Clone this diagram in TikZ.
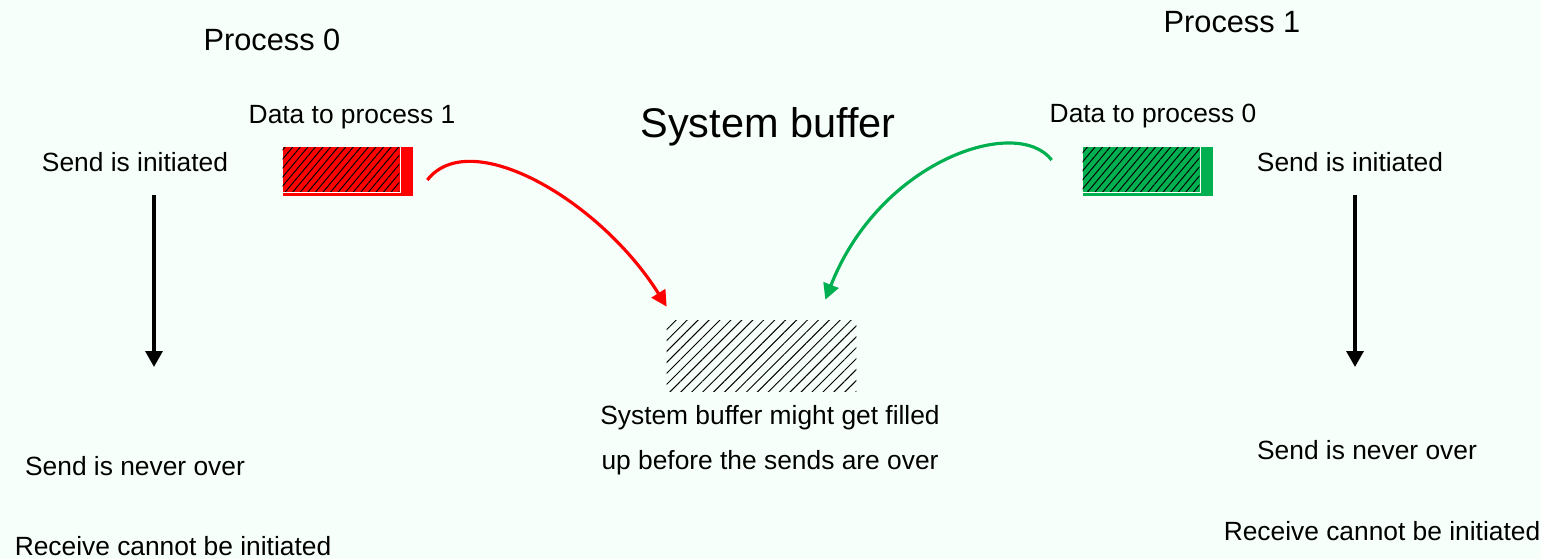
\documentclass[tikz,border=0pt]{standalone}
\usepackage{fontspec}
\setmainfont{Liberation Sans}
\usetikzlibrary{arrows.meta, patterns.meta}
\definecolor{bgmint}{RGB}{246,255,250}
\definecolor{pgreen}{RGB}{0,176,80}

\begin{document}
\begin{tikzpicture}[x=0.02cm, y=-0.02cm,
  lbl/.style={font=\fontsize{15}{18}\selectfont, inner sep=0pt},
  title/.style={font=\fontsize{17.5}{21}\selectfont, inner sep=0pt},
  datablk/.style={minimum width=2.6cm, minimum height=0.98cm, inner sep=0pt},
  hatch/.style={pattern={Lines[angle=50, distance=3.3pt, line width=0.55pt]}, pattern color=black},
  flow/.style={-{Triangle[length=9pt, width=9.5pt]}, line width=2pt},
  xfer/.style={-{Triangle[length=9pt, width=9pt]}, line width=1.8pt}]
\fill[bgmint] (0,0) rectangle (1541,559);
\useasboundingbox (0,0) rectangle (1541,559);
% titles
\node[title] (p0) at (272,40) {Process 0};
\node[title] (p1) at (1232,22) {Process 1};
\node[font=\fontsize{23.6}{28}\selectfont, inner sep=0pt] (sbtitle) at (768,127) {System buffer};
\node[lbl] (d1) at (352,117) {Data to process 1};
\node[lbl] (d0) at (1153,116) {Data to process 0};
% data blocks
\node[datablk, fill=red] (redblk) at (348,171.5) {};
\draw[white, line width=0.7pt] ([shift={(0,-4)}]redblk.south west) -| ([shift={(-13,0)}]redblk.north east);
\fill[red, hatch] ([shift={(0,1)}]redblk.north west) rectangle ([shift={(-14,-5)}]redblk.south east);
\node[datablk, fill=pgreen] (grnblk) at (1148,171.5) {};
\draw[white, line width=0.7pt] ([shift={(0,-4)}]grnblk.south west) -| ([shift={(-13,0)}]grnblk.north east);
\fill[pgreen, hatch] ([shift={(0,1)}]grnblk.north west) rectangle ([shift={(-14,-5)}]grnblk.south east);
% system buffer
\node[minimum width=3.78cm, minimum height=1.4cm, inner sep=0pt] (sysbuf) at (761.5,356) {};
\fill[pattern={Lines[angle=45, distance=4.4pt, line width=0.55pt]}, pattern color=black] (sysbuf.north west) rectangle (sysbuf.south east);
\node[lbl, align=center, font=\fontsize{15}{25.6}\selectfont] (bufnote) at (770,440) {System buffer might get filled\\up before the sends are over};
% process 0 side
\node[lbl] (initL) at (135,162) {Send is initiated};
\node[lbl] (overL) at (135,466) {Send is never over};
\node[lbl] (recvL) at (173,546) {Receive cannot be initiated};
\coordinate (topL) at (154,195);
\coordinate (botL) at (154,367);
\draw[flow] (topL) -- (botL);
% process 1 side
\node[lbl] (initR) at (1350,162) {Send is initiated};
\node[lbl] (overR) at (1367,450) {Send is never over};
\node[lbl] (recvR) at (1382,531) {Receive cannot be initiated};
\coordinate (topR) at (1355,195);
\coordinate (botR) at (1355,367);
\draw[flow] (topR) -- (botR);
% transfers into the buffer
\draw[xfer, red] ([shift={(14,8.5)}]redblk.east) .. controls (470,125) and (600,200) .. ([shift={(0,-14)}]sysbuf.north west);
\draw[xfer, pgreen] ([shift={(-31,-11.5)}]grnblk.west) .. controls (1017,115) and (880,160) .. ([shift={(-31,-21)}]sysbuf.north east);
\end{tikzpicture}
\end{document}
